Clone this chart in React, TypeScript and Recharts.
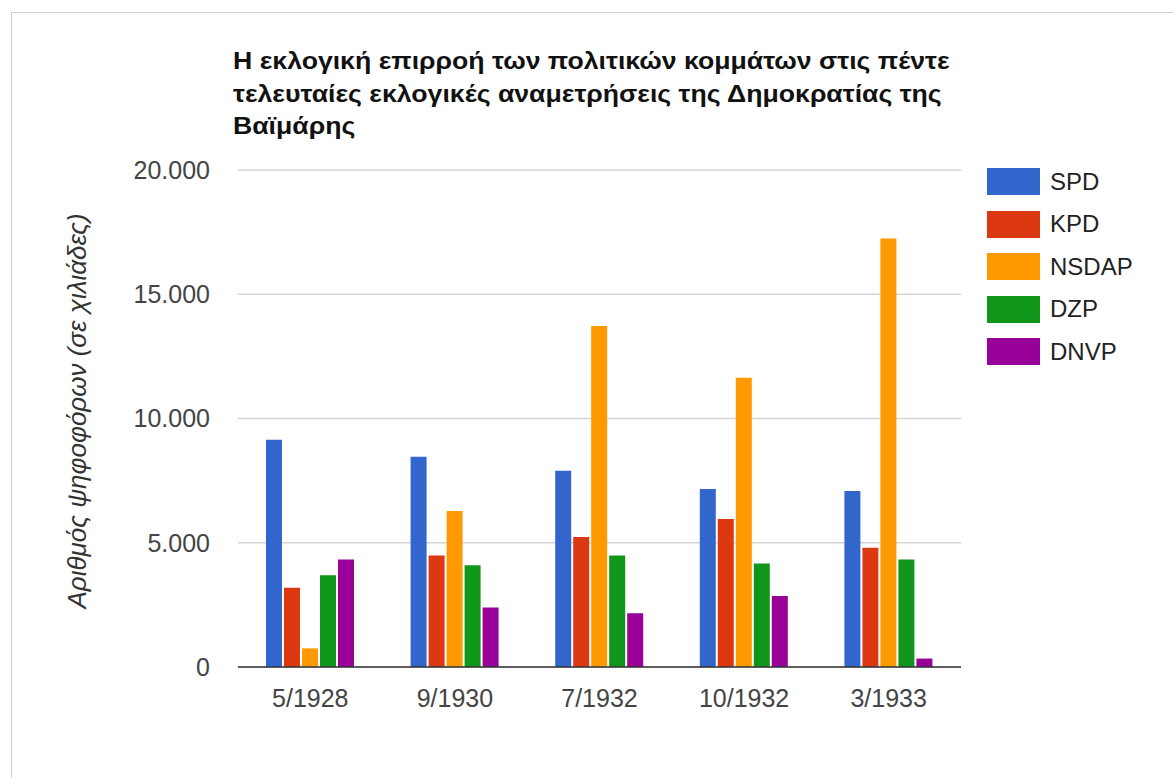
import { BarChart, Bar, XAxis, YAxis, CartesianGrid, Label } from 'recharts'

const ELECTIONS = ['5/1928', '9/1930', '7/1932', '10/1932', '3/1933']
const SPD = [9140, 8460, 7900, 7160, 7080]
const KPD = [3190, 4490, 5230, 5960, 4800]
const NSDAP = [750, 6280, 13720, 11640, 17240]
const DZP = [3690, 4090, 4490, 4160, 4330]
const DNVP = [4330, 2390, 2160, 2860, 340]
const Y_TICKS = [0, 5000, 10000, 15000, 20000]

const TITLE_LINES = [
  'Η εκλογική επιρροή των πολιτικών κομμάτων στις πέντε',
  'τελευταίες εκλογικές αναμετρήσεις της Δημοκρατίας της',
  'Βαϊμάρης',
]
const Y_TITLE = 'Αριθμός ψηφοφόρων (σε χιλιάδες)'

const SERIES = [
  { key: 'SPD', values: SPD, color: '#3366cc' },
  { key: 'KPD', values: KPD, color: '#dc3912' },
  { key: 'NSDAP', values: NSDAP, color: '#ff9900' },
  { key: 'DZP', values: DZP, color: '#109618' },
  { key: 'DNVP', values: DNVP, color: '#990099' },
]

const records = ELECTIONS.map((name, i) => {
  const row: Record<string, string | number> = { name }
  SERIES.forEach((s) => { row[s.key] = s.values[i]! })
  return row
})

const FONT = '"Liberation Sans", Arial, sans-serif'

const fmt = (v: number) => String(v).replace(/\B(?=(\d{3})+(?!\d))/g, '.')

function YTitle() {
  return (
    <text
      x={77}
      y={411}
      transform="rotate(-90 77 411)"
      textAnchor="middle"
      dominantBaseline="central"
      fontFamily={FONT}
      fontStyle="italic"
      fontSize={26}
      fill="#333"
    >
      {Y_TITLE}
    </text>
  )
}

export default function App() {
  return (
    <div style={{ position: 'fixed', left: 0, top: 0, width: 1173, height: 778, overflow: 'hidden', background: '#fff' }}>
      <div
        style={{
          position: 'absolute', left: 11, top: 12, width: 1200, height: 800,
          borderTop: '1px solid #d0d0d0', borderLeft: '1px solid #d0d0d0',
        }}
      />
      <div
        style={{
          position: 'absolute', left: 233, top: 45, fontFamily: FONT, fontWeight: 'bold',
          fontSize: 24, lineHeight: '32.5px', color: '#111', whiteSpace: 'nowrap',
          transform: 'scaleX(1.11)', transformOrigin: 'left top',
        }}
      >
        {TITLE_LINES.map((l) => <div key={l}>{l}</div>)}
      </div>
      <div style={{ position: 'absolute', left: 0, top: 0 }}>
        <BarChart
          width={1173}
          height={778}
          data={records}
          margin={{ top: 170, right: 212, bottom: 71, left: 118 }}
          barCategoryGap={28}
          barGap={2}
        >
          <CartesianGrid vertical={false} stroke="#d4d4d4" strokeWidth={1.5} />
          <XAxis
            dataKey="name"
            height={40}
            tickSize={0}
            tickMargin={22}
            axisLine={{ stroke: '#333', strokeWidth: 1.5 }}
            tick={{ fontSize: 25, fill: '#444', fontFamily: FONT }}
          />
          <YAxis
            width={120}
            domain={[0, 20000]}
            ticks={Y_TICKS}
            tickFormatter={fmt}
            tickSize={0}
            tickMargin={28}
            axisLine={false}
            tick={{ fontSize: 25, fill: '#444', fontFamily: FONT }}
          >
            <Label content={<YTitle />} />
          </YAxis>
          {SERIES.map((s) => (
            <Bar key={s.key} dataKey={s.key} fill={s.color} isAnimationActive={false} />
          ))}
        </BarChart>
      </div>
      {SERIES.map((s, i) => (
        <div
          key={s.key}
          style={{
            position: 'absolute', left: 987, top: 168 + i * 42.5, height: 27,
            display: 'flex', alignItems: 'center', fontFamily: FONT, fontSize: 24, color: '#222',
          }}
        >
          <span style={{ width: 53, height: 27, background: s.color, marginRight: 10 }} />
          {s.key}
        </div>
      ))}
    </div>
  )
}
